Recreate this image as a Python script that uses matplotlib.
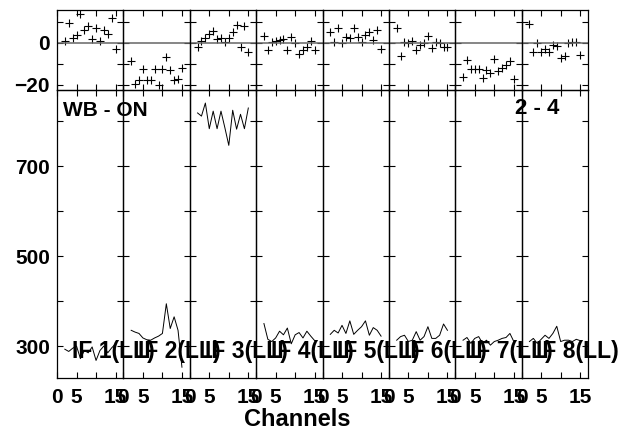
import matplotlib
matplotlib.use("Agg")
import matplotlib.pyplot as plt
import numpy as np

plt.rcParams['font.family'] = ['Liberation Sans Narrow', 'Liberation Sans', 'DejaVu Sans']
plt.rcParams['font.weight'] = 'bold'

channels = list(range(2, 16))
if_labels = ["IF 1(LL)", "IF 2(LL)", "IF 3(LL)", "IF 4(LL)",
             "IF 5(LL)", "IF 6(LL)", "IF 7(LL)", "IF 8(LL)"]

# phase per IF (degrees)
phase = [
    [1.1, 9.7, 2.5, 3.9, 13.9, 6.4, 8.1, 1.7, 6.9, 0.9, 6.4, 4.5, 11.9, -2.7],
    [-8.8, -19.4, -17.8, -12.4, -17.4, -17.8, -12.4, -20.2, -12.4, -6.7, -12.7, -17.4, -17.0, -11.9],
    [-1.7, 1.1, 2.2, 4.5, 5.6, 1.7, 2.2, 0.6, 2.2, 5.3, 8.5, -1.7, 8.0, -4.5],
    [3.3, -3.3, 0.6, 1.1, 1.4, 1.7, -3.3, 3.0, 0.2, -5.2, -3.3, -1.7, 1.1, -3.3],
    [5.0, 0.6, 6.9, 0.2, 3.0, 2.5, 7.2, 3.0, 0.6, 3.8, 5.0, 1.4, 6.4, -2.8],
    [6.9, -6.0, 0.6, -0.2, 1.1, -3.3, -0.9, -0.2, 3.3, -2.5, 0.6, -0.2, -1.7, -2.0],
    [-16.1, -8.3, -12.4, -12.4, -12.4, -16.6, -12.7, -14.2, -7.7, -13.5, -11.9, -10.3, -8.8, -17.0],
    [9.2, -4.5, 0.2, -4.4, -3.0, -4.4, -0.9, -1.3, -7.2, -6.4, 0.2, 0.6, 0.6, -5.6],
]

# amplitude per IF
amp = [
    [293, 288, 295, 300, 272, 290, 285, 298, 268, 290, 300, 285, 296, 305],
    [335, 331, 328, 318, 314, 313, 318, 322, 328, 394, 339, 365, 335, 253],
    [818, 811, 840, 783, 822, 783, 822, 785, 746, 824, 782, 815, 783, 829],
    [350, 315, 310, 318, 333, 325, 340, 305, 325, 330, 318, 333, 322, 312],
    [326, 335, 329, 346, 328, 356, 326, 335, 343, 356, 324, 341, 335, 322],
    [313, 321, 324, 310, 313, 332, 313, 321, 343, 317, 317, 324, 349, 335],
    [313, 319, 306, 317, 321, 306, 313, 302, 310, 313, 317, 319, 328, 310],
    [310, 317, 306, 315, 324, 317, 328, 344, 310, 313, 313, 310, 315, 312],
]

W, H = 624, 432
fig = plt.figure(figsize=(6.24, 4.32), dpi=100)

left = 57
pw = (588 - 57) / 8.0
fs = 15

for i in range(8):
    x0 = (left + i * pw) / W
    axp = fig.add_axes([x0, 1 - 90 / H, pw / W, 80 / H])
    axa = fig.add_axes([x0, 1 - 378 / H, pw / W, 288 / H])

    axp.plot(channels, phase[i], '+', color='black', markersize=6, markeredgewidth=0.8)
    axp.axhline(0, color='0.4', lw=1.1)
    axp.set_ylim(-22.4, 15.7)
    axp.set_yticks([-20, 0])
    axp.set_yticks([-10, 10], minor=True)

    axa.plot(channels, amp[i], color='black', lw=0.7)
    axa.set_ylim(229, 869)
    axa.set_yticks([300, 500, 700])
    axa.set_yticks([400, 600, 800], minor=True)
    axa.text(3.8, 273, if_labels[i], fontsize=16.5, fontweight='bold', va='baseline')

    for ax in (axp, axa):
        ax.set_xlim(0, 17)
        ax.set_xticks([0, 5, 10, 15])
        ax.tick_params(which='both', direction='in', top=True, right=True,
                       length=4.5, width=0.8, labelsize=fs)
        for s in ax.spines.values():
            s.set_linewidth(0.9)
        ax.set_facecolor('none')
    axp.set_xticklabels([])
    axa.set_xticklabels(['0', '5', '', '15'])
    axa.tick_params(axis='x', pad=7)
    if i > 0:
        axp.set_yticklabels([])
        axa.set_yticklabels([])
    else:
        axp.tick_params(axis='y', pad=5)
        axa.tick_params(axis='y', pad=5)

fig.text(63 / W, 1 - 110 / H, "WB - ON", fontsize=fs, fontweight='bold', va='center')
fig.text(515 / W, 1 - 109 / H, "2 - 4", fontsize=16, fontweight='bold', va='center')
fig.text(297 / W, 1 - 420 / H, "Channels", fontsize=17, fontweight='bold', ha='center', va='center')

plt.savefig("out.png", dpi=100)
